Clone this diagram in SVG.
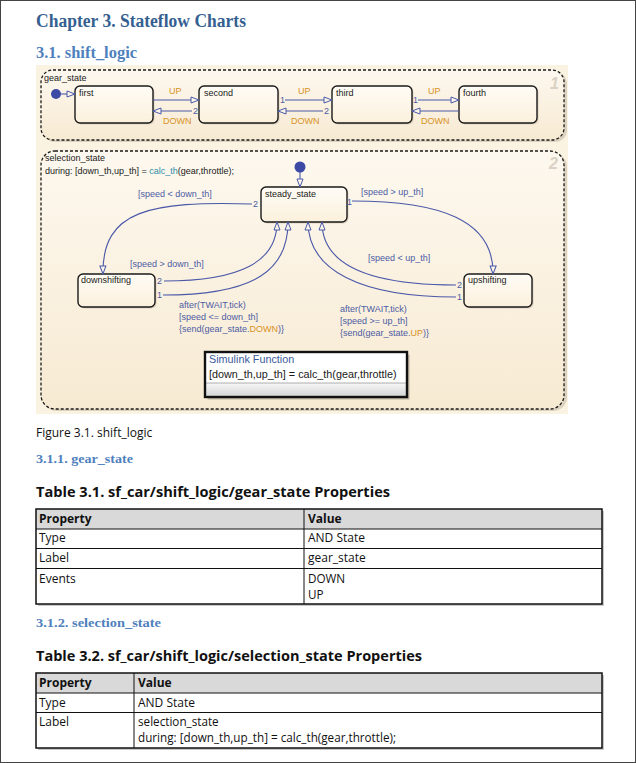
<svg xmlns="http://www.w3.org/2000/svg" width="636" height="763" viewBox="0 0 636 763">
<defs>
<style>
.h1{font-family:"Liberation Serif","DejaVu Serif",serif;font-weight:bold;font-size:18px;fill:#365f91}
.h2{font-family:"Liberation Serif","DejaVu Serif",serif;font-weight:bold;fill:#4f81bd}
.body{font-family:"Open Sans","Noto Sans",sans-serif;font-size:12px;fill:#111}
.ml{font-size:11.7px}
.tt{font-family:"Open Sans","Noto Sans",sans-serif;font-size:15px;font-weight:bold;fill:#111}
.th{font-family:"Open Sans","Noto Sans",sans-serif;font-size:12px;font-weight:bold;fill:#111}
.sf{font-family:"Liberation Sans",Arial,sans-serif;font-size:9px;fill:#1a1a1a}
.sfn{font-family:"Liberation Sans",Arial,sans-serif;font-size:10.8px;fill:#1a1a1a}
.tl{font-family:"Liberation Sans",Arial,sans-serif;font-size:9px;fill:#4c5ca4}
.ev{fill:#d8921f}
.fn{fill:#2f8fa6}
.num{font-family:"Liberation Sans",Arial,sans-serif;font-size:16px;font-weight:bold;font-style:italic;fill:#d9d2c4}
.super{fill:url(#gSuper);stroke:#1a1a1a;stroke-width:1.3;stroke-dasharray:3 2}
.state{fill:url(#gState);stroke:#1a1a1a;stroke-width:1.4}
.sh{fill:#b9ab94;opacity:0.45}
.tr{fill:none;stroke:#4a58a8;stroke-width:1.1;marker-end:url(#arr)}
.dot{fill:#3c4aa6}
.grid{fill:none;stroke:#111;stroke-width:1}
</style>
<linearGradient id="gSuper" x1="0" y1="0" x2="0" y2="1">
<stop offset="0" stop-color="#fdf8ef"/>
<stop offset="1" stop-color="#f7ead2"/>
</linearGradient>
<linearGradient id="gState" x1="0" y1="0" x2="0" y2="1">
<stop offset="0" stop-color="#fffcf6"/>
<stop offset="1" stop-color="#fbf0dc"/>
</linearGradient>
<linearGradient id="gStrip" x1="0" y1="0" x2="0" y2="1">
<stop offset="0" stop-color="#f7f7f7"/>
<stop offset="1" stop-color="#d6d6d6"/>
</linearGradient>
<marker id="arr" markerUnits="userSpaceOnUse" markerWidth="10" markerHeight="8" viewBox="0 0 10 8" refX="9" refY="4" orient="auto">
<path d="M1,1 L9,4 L1,7 Z" fill="#fcf6ea" stroke="#4a58a8" stroke-width="1"/>
</marker>
</defs>

<rect x="0" y="0" width="636" height="763" fill="#ffffff"/>
<rect x="0.5" y="0.5" width="635" height="762" fill="none" stroke="#444" stroke-width="1"/>

<g id="headings">
<text class="h1" x="36" y="27" textLength="210" lengthAdjust="spacingAndGlyphs">Chapter 3. Stateflow Charts</text>
<text class="h2" x="36" y="58" font-size="16" textLength="101" lengthAdjust="spacingAndGlyphs">3.1. shift_logic</text>
</g>

<!-- chart image -->
<rect x="36" y="65" width="532" height="349" fill="#fbf3e2"/>

<g id="gear_state">
<rect class="sh" x="43" y="72" width="524" height="70" rx="12"/>
<rect class="super" x="41" y="70" width="523" height="70" rx="12"/>
<text class="sf" x="44" y="81">gear_state</text>
<text class="num" x="550" y="89">1</text>
</g>

<g id="first">
<rect class="sh" x="76.5" y="87.5" width="78" height="37" rx="5"/>
<rect class="state" x="75" y="86" width="78" height="37" rx="5"/>
<text class="sf" x="79" y="96">first</text>
</g>
<g id="second">
<rect class="sh" x="200.5" y="87.5" width="79" height="37" rx="5"/>
<rect class="state" x="199" y="86" width="79" height="37" rx="5"/>
<text class="sf" x="204" y="96">second</text>
</g>
<g id="third">
<rect class="sh" x="333.5" y="87.5" width="80" height="37" rx="5"/>
<rect class="state" x="332" y="86" width="80" height="37" rx="5"/>
<text class="sf" x="336" y="96">third</text>
</g>
<g id="fourth">
<rect class="sh" x="460.5" y="87.5" width="78" height="37" rx="5"/>
<rect class="state" x="459" y="86" width="78" height="37" rx="5"/>
<text class="sf" x="463" y="96">fourth</text>
</g>

<g id="selection_state">
<rect class="sh" x="43" y="153" width="524" height="258" rx="14"/>
<rect class="super" x="41" y="151" width="523" height="258" rx="14"/>
<text class="sf" x="45" y="161">selection_state</text>
<text class="sf" x="45" y="174">during: [down_th,up_th] = <tspan class="fn">calc_th</tspan>(gear,throttle);</text>
<text class="num" x="549" y="169">2</text>
</g>

<g id="steady_state">
<rect class="sh" x="262.5" y="188.5" width="86" height="35" rx="5"/>
<rect class="state" x="261" y="187" width="86" height="35" rx="5"/>
<text class="sf" x="265" y="197">steady_state</text>
</g>
<g id="downshifting">
<rect class="sh" x="79.5" y="275.5" width="77" height="33" rx="5"/>
<rect class="state" x="78" y="274" width="77" height="33" rx="5"/>
<text class="sf" x="81" y="283">downshifting</text>
</g>
<g id="upshifting">
<rect class="sh" x="465.5" y="275.5" width="68" height="33" rx="5"/>
<rect class="state" x="464" y="274" width="68" height="33" rx="5"/>
<text class="sf" x="468" y="283">upshifting</text>
</g>

<g id="simulink_function">
<rect x="207.5" y="354.5" width="202" height="45" fill="#8a8070" opacity="0.5"/>
<rect x="205" y="352" width="202" height="45" fill="#ffffff"/>
<rect x="206" y="383" width="200" height="13" fill="url(#gStrip)"/>
<line x1="206" y1="383" x2="406" y2="383" stroke="#9a9a9a" stroke-width="0.8"/>
<rect x="205" y="352" width="202" height="45" fill="none" stroke="#111" stroke-width="2.4"/>
<text class="sfn" x="209" y="363" style="fill:#3a5a9c">Simulink Function</text>
<text class="sfn" x="209" y="378">[down_th,up_th] = calc_th(gear,throttle)</text>
</g>

<g id="connectors">
<circle class="dot" cx="56" cy="94" r="5"/>
<path class="tr" d="M61,94 L75,94"/>
<path class="tr" d="M153,100 L199,100"/>
<path class="tr" d="M192,111 L153,111"/>
<text class="tl" x="193" y="114">2</text>
<text class="tl ev" x="169" y="94">UP</text>
<text class="tl ev" x="163" y="124">DOWN</text>
<path class="tr" d="M285,100 L332,100"/>
<text class="tl" x="280" y="103">1</text>
<path class="tr" d="M323,111 L278,111"/>
<text class="tl" x="324" y="114">2</text>
<text class="tl ev" x="298" y="94">UP</text>
<text class="tl ev" x="291" y="124">DOWN</text>
<path class="tr" d="M418,100 L459,100"/>
<text class="tl" x="413" y="103">1</text>
<path class="tr" d="M459,111 L412,111"/>
<text class="tl ev" x="428" y="94">UP</text>
<text class="tl ev" x="421" y="124">DOWN</text>

<circle class="dot" cx="300" cy="167" r="5.5"/>
<path class="tr" d="M300,172 L300,187"/>
<path class="tr" d="M252,204 C150,201 102,210 103,274"/>
<text class="tl" x="253" y="207">2</text>
<text class="tl" x="138" y="197">[speed &lt; down_th]</text>
<path class="tr" d="M352,201 C440,201 494,220 493,274"/>
<text class="tl" x="347" y="205">1</text>
<text class="tl" x="361" y="195">[speed &gt; up_th]</text>
<path class="tr" d="M164,281 C240,281 277,262 277,222"/>
<text class="tl" x="157" y="284">2</text>
<path class="tr" d="M163,295 C258,295 288,268 288,222"/>
<text class="tl" x="157" y="298">1</text>
<text class="tl" x="130" y="267">[speed &gt; down_th]</text>
<text class="tl" x="179" y="308">after(TWAIT,tick)<tspan x="179" dy="12">[speed &lt;= down_th]</tspan><tspan x="179" dy="12">{send(gear_state.<tspan class="ev">DOWN</tspan>)}</tspan></text>
<path class="tr" d="M456,285 C370,285 322,265 322,222"/>
<text class="tl" x="457" y="288">2</text>
<path class="tr" d="M456,297 C360,297 308,270 308,222"/>
<text class="tl" x="457" y="300">1</text>
<text class="tl" x="368" y="261">[speed &lt; up_th]</text>
<text class="tl" x="340" y="312">after(TWAIT,tick)<tspan x="340" dy="12">[speed &gt;= up_th]</tspan><tspan x="340" dy="12">{send(gear_state.<tspan class="ev">UP</tspan>)}</tspan></text>
</g>

<g id="caption">
<text class="body" x="36" y="437">Figure 3.1. shift_logic</text>
<text class="h2" x="36" y="463" font-size="13.5" textLength="97" lengthAdjust="spacingAndGlyphs">3.1.1. gear_state</text>
<text class="tt" x="36" y="497" textLength="354" lengthAdjust="spacingAndGlyphs">Table 3.1. sf_car/shift_logic/gear_state Properties</text>
</g>

<g id="table1">
<rect x="38" y="511" width="566" height="95" fill="#c8c8c8"/>
<rect x="36" y="509" width="566" height="95" fill="#ffffff"/>
<rect x="36" y="509" width="566" height="20" fill="#d9d9d9"/>
<line class="grid" x1="36" y1="529" x2="602" y2="529"/>
<line class="grid" x1="36" y1="548.5" x2="602" y2="548.5"/>
<line class="grid" x1="36" y1="568.5" x2="602" y2="568.5"/>
<line class="grid" x1="304" y1="509" x2="304" y2="604"/>
<rect x="36" y="509" width="566" height="95" fill="none" stroke="#111" stroke-width="1.5"/>
<text class="th" x="39" y="523">Property</text>
<text class="th" x="308" y="523">Value</text>
<text class="body" x="39" y="542">Type</text>
<text class="body" x="308" y="542">AND State</text>
<text class="body" x="39" y="562">Label</text>
<text class="body" x="308" y="562">gear_state</text>
<text class="body" x="39" y="583">Events</text>
<text class="body ml" x="308" y="582.5">DOWN</text>
<text class="body ml" x="308" y="598.5">UP</text>
</g>

<g id="section2">
<text class="h2" x="36" y="627" font-size="13.5" textLength="125" lengthAdjust="spacingAndGlyphs">3.1.2. selection_state</text>
<text class="tt" x="36" y="661" textLength="386" lengthAdjust="spacingAndGlyphs">Table 3.2. sf_car/shift_logic/selection_state Properties</text>
</g>

<g id="table2">
<rect x="38" y="675" width="566" height="75" fill="#c8c8c8"/>
<rect x="36" y="673" width="566" height="75" fill="#ffffff"/>
<rect x="36" y="673" width="566" height="20" fill="#d9d9d9"/>
<line class="grid" x1="36" y1="693" x2="602" y2="693"/>
<line class="grid" x1="36" y1="712.5" x2="602" y2="712.5"/>
<line class="grid" x1="134" y1="673" x2="134" y2="748"/>
<rect x="36" y="673" width="566" height="75" fill="none" stroke="#111" stroke-width="1.5"/>
<text class="th" x="39" y="687">Property</text>
<text class="th" x="138" y="687">Value</text>
<text class="body" x="39" y="707">Type</text>
<text class="body" x="138" y="707">AND State</text>
<text class="body" x="39" y="726">Label</text>
<text class="body ml" x="138" y="725.5">selection_state</text>
<text class="body ml" x="138" y="741.5">during: [down_th,up_th] = calc_th(gear,throttle);</text>
</g>
</svg>
